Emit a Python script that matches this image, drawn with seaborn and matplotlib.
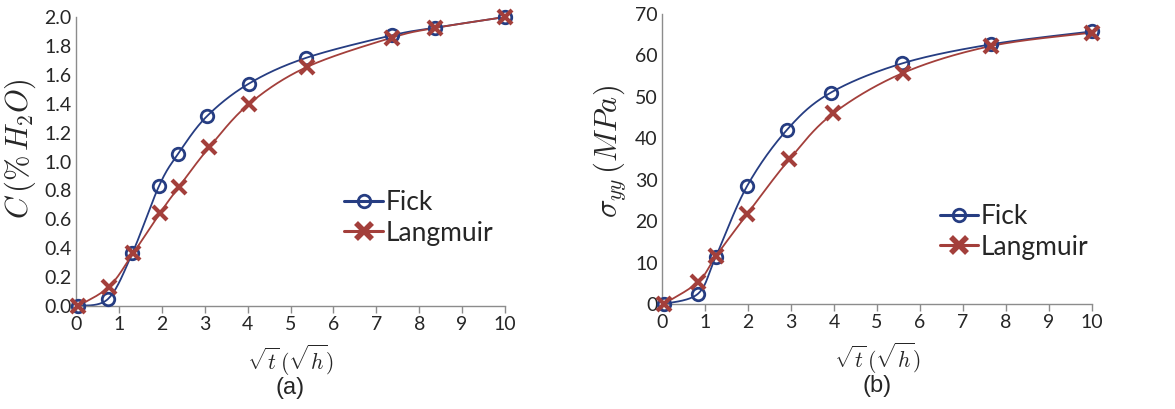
import numpy as np
import matplotlib
matplotlib.use("Agg")
import matplotlib.pyplot as plt
import seaborn as sns
from matplotlib.lines import Line2D

# ---- data ----
fick_c_x = [0.05, 0.75, 1.31, 1.94, 2.38, 3.05, 4.03, 5.36, 7.36, 8.37, 10.0]
fick_c_y = [0.0, 0.05, 0.364, 0.834, 1.053, 1.313, 1.539, 1.717, 1.873, 1.926, 2.0]
lang_c_x = [0.05, 0.77, 1.33, 1.96, 2.40, 3.11, 4.04, 5.38, 7.36, 8.37, 10.0]
lang_c_y = [0.0, 0.134, 0.364, 0.645, 0.825, 1.10, 1.40, 1.654, 1.857, 1.924, 2.0]

fick_s_x = [0.04, 0.84, 1.25, 1.98, 2.91, 3.92, 5.59, 7.66, 10.0]
fick_s_y = [0.0, 2.5, 11.4, 28.5, 42.1, 51.0, 58.1, 62.7, 65.8]
lang_s_x = [0.04, 0.84, 1.25, 1.98, 2.96, 3.98, 5.61, 7.66, 10.0]
lang_s_y = [0.0, 5.3, 11.5, 21.7, 34.9, 46.0, 55.8, 62.3, 65.5]

x_ticks = list(range(0, 11))
c_ticks = [0.0, 0.2, 0.4, 0.6, 0.8, 1.0, 1.2, 1.4, 1.6, 1.8, 2.0]
s_ticks = [0, 10, 20, 30, 40, 50, 60, 70]
series_names = ["Fick", "Langmuir"]

BLUE = "#263d82"
RED = "#a33f3b"
GRAY = "#8c8c8c"


def smooth(x, y, n=40):
    """Excel-like smoothed line (cardinal Bezier through the points)."""
    x = np.asarray(x, float)
    y = np.asarray(y, float)
    P = np.column_stack([x, y])
    out = []
    k = len(P)
    for i in range(k - 1):
        p0 = P[i - 1] if i > 0 else P[i]
        p1 = P[i]
        p2 = P[i + 1]
        p3 = P[i + 2] if i + 2 < k else P[i + 1]
        c1 = p1 + (p2 - p0) / 6.0
        c2 = p2 - (p3 - p1) / 6.0
        t = np.linspace(0, 1, n)[:, None]
        seg = ((1 - t) ** 3) * p1 + 3 * ((1 - t) ** 2) * t * c1 + 3 * (1 - t) * t ** 2 * c2 + t ** 3 * p2
        out.append(seg if i == 0 else seg[1:])
    s = np.vstack(out)
    return s[:, 0], s[:, 1]


sns.set_theme(style="white")
plt.rcParams["font.family"] = ["Lato", "DejaVu Sans"]
plt.rcParams["mathtext.fontset"] = "cm"

fig = plt.figure(figsize=(11.75, 4.09), dpi=100)
axL = fig.add_axes([0.0647, 0.2518, 0.3651, 0.7066])
axR = fig.add_axes([0.5634, 0.2567, 0.3660, 0.7090])


def draw(ax, fx, fy, lx, ly, yticks, ylabel, panel, ylim, ytickfmt, leg_anchor, ylab_xy):
    sx, sy = smooth(fx, fy)
    sns.lineplot(x=sx, y=sy, ax=ax, color=BLUE, lw=1.3, sort=False, estimator=None)
    sx, sy = smooth(lx, ly)
    sns.lineplot(x=sx, y=sy, ax=ax, color=RED, lw=1.3, sort=False, estimator=None)
    ax.plot(fx, fy, linestyle="none", marker="o", ms=9, mfc="none", mec=BLUE, mew=2.0,
            zorder=3, clip_on=False)
    ax.plot(lx, ly, linestyle="none", marker="x", ms=10, mec=RED, mew=3.0, zorder=4,
            clip_on=False)

    ax.set_xlim(0, 10)
    ax.set_ylim(*ylim)
    ax.set_xticks(x_ticks)
    ax.set_yticks(yticks)
    ax.set_yticklabels([ytickfmt(v) for v in yticks])
    for sp in ["top", "right"]:
        ax.spines[sp].set_visible(False)
    for sp in ["left", "bottom"]:
        ax.spines[sp].set_color(GRAY)
        ax.spines[sp].set_linewidth(1.0)
    ax.tick_params(axis="x", direction="out", length=5, width=1, color=GRAY,
                   labelsize=14, pad=2, bottom=True)
    ax.tick_params(axis="y", direction="out", length=0, labelsize=14, pad=3, left=True)
    ax.set_ylabel(ylabel, fontsize=22)
    ax.yaxis.set_label_coords(*ylab_xy)
    ax.set_xlabel(r"$\sqrt{t}\,(\sqrt{h})$", fontsize=15.5, labelpad=7)
    ax.text(0.5, -0.245, panel, transform=ax.transAxes, ha="center", va="top",
            fontsize=17, family="Liberation Sans")

    handles = [
        Line2D([], [], color=BLUE, lw=2.2, marker="o", ms=9, mfc="none", mec=BLUE, mew=2.0),
        Line2D([], [], color=RED, lw=2.2, marker="x", ms=12, mec=RED, mew=4.0),
    ]
    ax.legend(handles, series_names, loc="center left", bbox_to_anchor=leg_anchor,
              frameon=False, prop={"family": "Lato", "size": 19},
              handlelength=1.45, handletextpad=0.1,
              labelspacing=0.2, borderpad=0)


draw(axL, fick_c_x, fick_c_y, lang_c_x, lang_c_y, c_ticks,
     r"$C\,(\%\,H_2O)$", "(a)", (0, 2.0), lambda v: f"{v:.1f}", (0.595, 0.305), (-0.089, 0.545))
draw(axR, fick_s_x, fick_s_y, lang_s_x, lang_s_y, s_ticks,
     r"$\sigma_{yy}\,(MPa)$", "(b)", (0, 70), lambda v: f"{v:d}", (0.615, 0.248), (-0.079, 0.525))

fig.savefig("out.png", dpi=100)
